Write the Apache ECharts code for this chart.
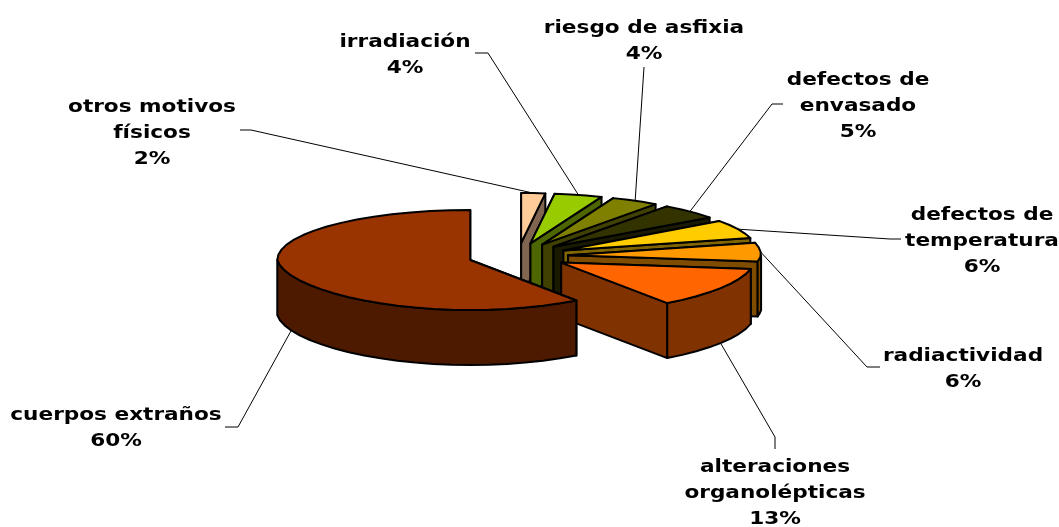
<!DOCTYPE html>
<html>
<head>
<meta charset="utf-8">
<style>
html, body { margin: 0; padding: 0; background: #fff; }
#chart { width: 1059px; height: 527px; }
</style>
</head>
<body>
<div id="chart"></div>
<script src="https://cdn.jsdelivr.net/npm/echarts@6/dist/echarts.min.js"></script>
<script>
// datos, en el orden de la tarta (desde las 12, sentido horario)
var categories = ['otros motivos\nfísicos', 'irradiación', 'riesgo de asfixia', 'defectos de\nenvasado',
    'defectos de\ntemperatura', 'radiactividad', 'alteraciones\norganolépticas', 'cuerpos extraños'];
var values = [2, 4, 4, 5, 6, 6, 13, 60];

var topColors = ['#FFCC99', '#99CC00', '#808000', '#333300', '#FFCC00', '#FF9900', '#FF6600', '#993300'];
var sideColors = ['#806650', '#4D6600', '#404000', '#1A1A00', '#806600', '#804D00', '#803300', '#4D1A00'];

// posicion del texto y arranque de la linea guia de cada etiqueta
var labelAt = [[152, 94], [405, 29], [644, 15], [858, 67], [982, 202], [963, 343], [775, 454], [116, 402]];
var leaderFrom = [[[240, 130], [251, 130]], [[475, 53], [488, 53]], [[644, 67]], [[783, 104], [772, 104]],
    [[901, 239], [890, 239]], [[880, 367], [867, 367]], [[775, 449], [775, 437]], [[225, 427], [238, 427]]];

// proyeccion de la tarta 3D
var cx = 518, cy = 256, rx = 193, ry = 50, depth = 55, explode = 0.26;
var total = values.reduce(function (a, b) { return a + b; }, 0);

function point(a, ox, oy, r, dy) {
    var front = Math.min(Math.cos(a), 0);
    return [ox + r * rx * Math.sin(a) * (1 + 0.08 * front), oy - r * ry * Math.cos(a) + dy];
}

function arc(from, to, ox, oy, dy) {
    var pts = [];
    var n = Math.max(1, Math.ceil((to - from) / (6 * Math.PI / 180)));
    for (var k = 0; k <= n; k++) {
        pts.push(point(from + (to - from) * k / n, ox, oy, 1, dy));
    }
    return pts;
}

function face(pts, fill) {
    return {
        type: 'polygon',
        shape: { points: pts },
        style: { fill: fill, stroke: '#000', lineWidth: 2, lineJoin: 'round' }
    };
}

function renderSlice(params, api) {
    var i = api.value(0);
    var before = 0;
    for (var j = 0; j < i; j++) before += values[j];
    var s = before / total * 2 * Math.PI;
    var e = (before + api.value(1)) / total * 2 * Math.PI;
    var mid = (s + e) / 2;
    var ox = cx + explode * rx * Math.sin(mid);
    var oy = cy - explode * ry * Math.cos(mid);
    var children = [];

    // linea guia hasta el borde de la porcion
    var front = Math.cos(mid) < -0.3;
    var leader = leaderFrom[i].concat([point(mid, ox, oy, 1, front ? depth : 0)]);
    children.push({
        type: 'polyline',
        shape: { points: leader },
        style: { fill: null, stroke: '#000', lineWidth: 1 }
    });

    // caras laterales: inicio, fin, borde curvo y tapa
    [s, e].forEach(function (a) {
        var p = point(a, ox, oy, 1, 0);
        children.push(face([[ox, oy], p, [p[0], p[1] + depth], [ox, oy + depth]], sideColors[i]));
    });
    var rimFrom = Math.max(s, Math.PI / 2);
    var rimTo = Math.min(e, 1.5 * Math.PI);
    if (rimTo > rimFrom) {
        children.push(face(arc(rimFrom, rimTo, ox, oy, 0).concat(arc(rimFrom, rimTo, ox, oy, depth).reverse()), sideColors[i]));
    }
    children.push(face([[ox, oy]].concat(arc(s, e, ox, oy, 0)), topColors[i]));

    // el texto original es mas ancho que DejaVu, se estira en horizontal
    children.push({
        type: 'text',
        x: labelAt[i][0],
        y: labelAt[i][1],
        scaleX: 1.2,
        style: {
            text: categories[i] + '\n' + api.value(1) + '%',
            fontFamily: '"DejaVu Sans"',
            fontWeight: 'bold',
            fontSize: 18,
            lineHeight: 26,
            fill: '#000',
            align: 'center',
            verticalAlign: 'top'
        }
    });
    return { type: 'group', children: children };
}

var chart = echarts.init(document.getElementById('chart'));
chart.setOption({
    backgroundColor: '#fff',
    animation: false,
    series: [{
        type: 'custom',
        coordinateSystem: 'none',
        clip: false,
        renderItem: renderSlice,
        data: values.map(function (v, i) { return [i, v]; })
    }]
});
</script>
</body>
</html>
